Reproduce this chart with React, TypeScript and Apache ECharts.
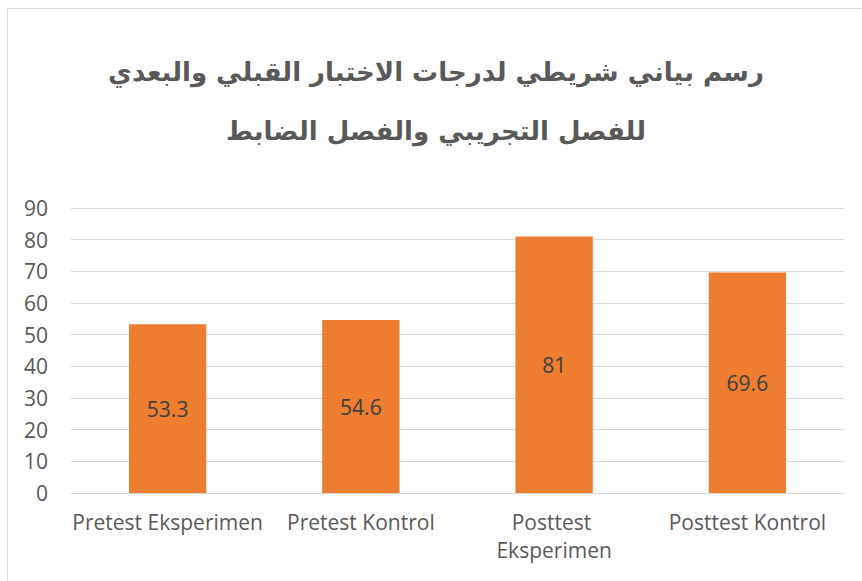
import React, { useEffect, useRef } from "react";
import * as echarts from "echarts";

const titleLines = ["رسم بياني شريطي لدرجات الاختبار القبلي والبعدي", "للفصل التجريبي والفصل الضابط"];
const categories = ["Pretest Eksperimen", "Pretest Kontrol", "Posttest Eksperimen", "Posttest Kontrol"];
const values = [53.3, 54.6, 81, 69.6];
const yMin = 0;
const yMax = 90;
const yStep = 10;

export default function App() {
  const ref = useRef<HTMLDivElement>(null);
  useEffect(() => {
    if (!ref.current) return;
    const chart = echarts.init(ref.current, null, { renderer: "svg" });
    const latin = "'Open Sans', 'Noto Sans', sans-serif";
    const titleFont = "bold 26px 'DejaVu Sans', serif";
    chart.setOption({
      animation: false,
      backgroundColor: "#ffffff",
      graphic: [
        {
          type: "rect",
          shape: { x: 7.5, y: 8.5, width: 900, height: 700 },
          style: { fill: "none", stroke: "#d9d9d9", lineWidth: 1 },
          z: 0,
        },
        {
          type: "text",
          x: 436,
          y: 72,
          style: {
            text: titleLines[0],
            font: titleFont,
            fill: "#595959",
            align: "center",
            verticalAlign: "middle",
          },
        },
        {
          type: "text",
          x: 436,
          y: 131,
          style: {
            text: titleLines[1],
            font: titleFont,
            fill: "#595959",
            align: "center",
            verticalAlign: "middle",
          },
        },
      ],
      grid: { left: 71, right: 18, top: 208, bottom: 88, containLabel: false },
      xAxis: {
        type: "category",
        data: categories,
        axisLine: { lineStyle: { color: "#d9d9d9", width: 1 } },
        axisTick: { show: false },
        axisLabel: {
          color: "#595959",
          fontFamily: latin,
          fontSize: 21,
          margin: 15,
          width: 193,
          overflow: "break",
          lineHeight: 28,
          interval: 0,
        },
      },
      yAxis: {
        type: "value",
        min: yMin,
        max: yMax,
        interval: yStep,
        axisLine: { show: false },
        axisTick: { show: false },
        splitLine: { lineStyle: { color: "#d9d9d9", width: 1 } },
        axisLabel: {
          color: "#595959",
          fontFamily: latin,
          fontSize: 21,
          margin: 23,
        },
      },
      series: [
        {
          type: "bar",
          data: values,
          barWidth: "40%",
          itemStyle: { color: "#ED7D31" },
          label: {
            show: true,
            position: "inside",
            color: "#404040",
            fontFamily: latin,
            fontSize: 21,
          },
        },
      ],
    });
    return () => chart.dispose();
  }, []);
  return (
    <div
      ref={ref}
      style={{ position: "absolute", left: 0, top: 0, width: 862, height: 581 }}
    />
  );
}
